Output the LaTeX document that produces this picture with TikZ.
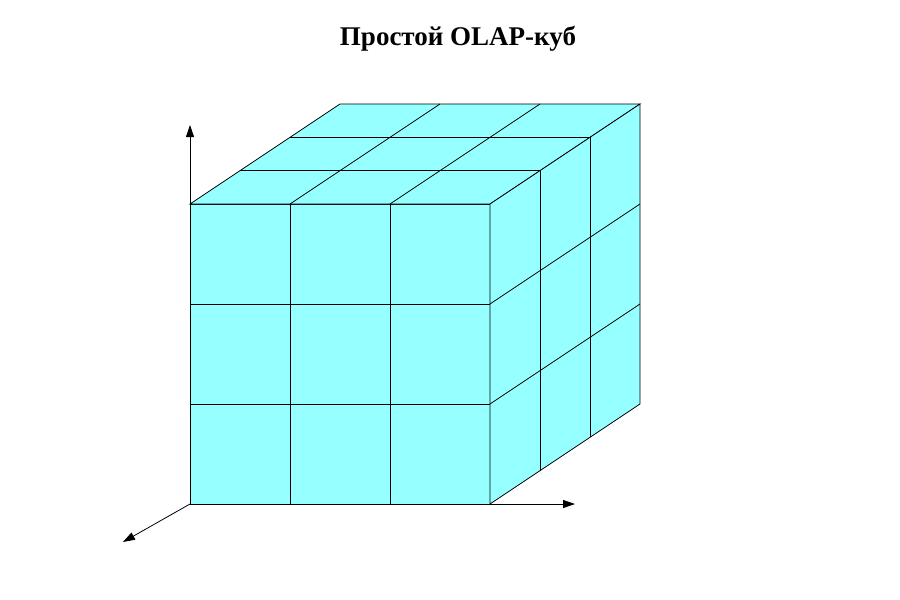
\documentclass[tikz,border=0pt]{standalone}
\usepackage{fontspec}
\setmainfont{Liberation Serif}
\usetikzlibrary{arrows.meta}
\definecolor{cubecyan}{RGB}{150,255,255}
\tikzset{
  grid line/.style={draw=black, line width=0.8pt},
  axis/.style={draw=black, line width=0.8pt, -{Triangle[length=12pt,width=8pt]}},
  face/.style={fill=cubecyan, draw=black, line width=0.8pt, line join=miter}
}
\begin{document}
\begin{tikzpicture}[x=1pt,y=-1pt]
\useasboundingbox (0,0) rectangle (900,600);
% title
\node[font=\bfseries\fontsize{27}{32}\selectfont, anchor=base] (title) at (458,45) {Простой OLAP-куб};
% key points
\coordinate (O) at (190,504);
\coordinate (A) at (490,504);
\coordinate (B) at (190,204);
% faces
\path[face] (190,204) rectangle (490,504);
\path[face] (190,204) -- (490,204) -- (640,104) -- (340,104) -- cycle;
\path[face] (490,204) -- (640,104) -- (640,404) -- (490,504) -- cycle;
% front grid
\foreach \i in {1,2} {
  \draw[grid line] (190+100*\i,204) -- (190+100*\i,504);
  \draw[grid line] (190,204+100*\i) -- (490,204+100*\i);
}
% top grid
\foreach \i in {1,2} {
  \draw[grid line] (190+100*\i,204) -- (340+100*\i,104);
  \draw[grid line] (190+50*\i,204-33.333*\i) -- (490+50*\i,204-33.333*\i);
}
% right grid
\foreach \i in {1,2} {
  \draw[grid line] (490+50*\i,204-33.333*\i) -- (490+50*\i,504-33.333*\i);
  \draw[grid line] (490,204+100*\i) -- (640,104+100*\i);
}
% axes
\draw[axis] (B) -- (190,125);
\draw[axis] (A) -- (575,504);
\draw[axis] (O) -- (123,542);
\end{tikzpicture}
\end{document}
